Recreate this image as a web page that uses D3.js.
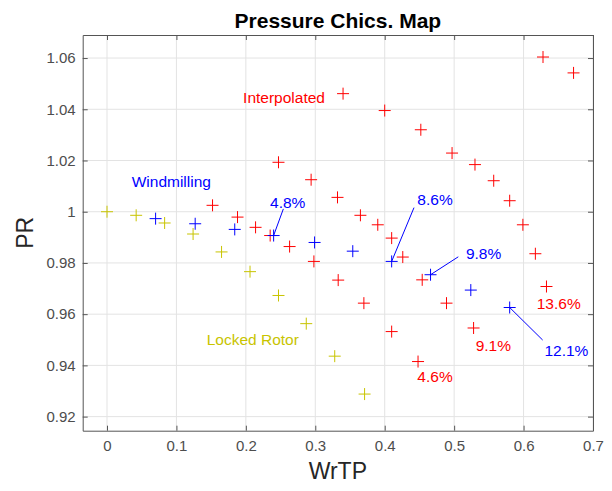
<!DOCTYPE html>
<html>
<head>
<meta charset="utf-8">
<script src="https://cdn.jsdelivr.net/npm/d3@7"></script>
<style>
  body { margin: 0; background: #fff; }
  svg { font-family: "Liberation Sans", Arial, sans-serif; }
</style>
</head>
<body>
<div id="chart"></div>
<script>
// locked rotor line
const lockedX = [0, 0.042, 0.083, 0.124, 0.165, 0.206, 0.247, 0.287, 0.328, 0.371];
const lockedY = [1.000, 0.9986, 0.9956, 0.9913, 0.9843, 0.9766, 0.9673, 0.9563, 0.9436, 0.9288];

// windmilling line
const windX = [0.070, 0.127, 0.184, 0.240, 0.299, 0.354, 0.410, 0.466, 0.524, 0.580];
const windY = [0.9973, 0.9953, 0.9931, 0.9907, 0.9880, 0.9846, 0.9806, 0.9754, 0.9694, 0.9626];

// interpolated speed lines
const interpX = [0.152, 0.188, 0.214, 0.235, 0.263, 0.298, 0.333, 0.370, 0.410, 0.448,
                 0.247, 0.294, 0.332, 0.365, 0.390, 0.410, 0.426, 0.454, 0.489, 0.528,
                 0.340, 0.400, 0.452, 0.497, 0.530, 0.557, 0.580, 0.599, 0.617, 0.633,
                 0.628, 0.672];
const interpY = [1.0025, 0.9979, 0.9939, 0.9907, 0.9864, 0.9806, 0.9733, 0.9643, 0.9532, 0.9415,
                 1.0193, 1.0125, 1.0056, 0.9986, 0.9949, 0.9897, 0.9823, 0.9734, 0.9643, 0.9546,
                 1.0461, 1.0395, 1.0320, 1.0229, 1.0184, 1.0121, 1.0043, 0.9949, 0.9836, 0.9708,
                 1.0604, 1.0542];

const xTicks = [0, 0.1, 0.2, 0.3, 0.4, 0.5, 0.6, 0.7];
const yTicks = [0.92, 0.94, 0.96, 0.98, 1.00, 1.02, 1.04, 1.06];

// text labels: [x, y, text, color]
const labels = [
    [0.196, 1.0445, "Interpolated", "red"],
    [0.0356, 1.0117, "Windmilling", "blue"],
    [0.1436, 0.9502, "Locked Rotor", "yellow"],
    [0.2348, 1.0035, "4.8%", "blue"],
    [0.447, 1.0046, "8.6%", "blue"],
    [0.517, 0.9838, "9.8%", "blue"],
    [0.630, 0.9457, "12.1%", "blue"],
    [0.619, 0.9642, "13.6%", "red"],
    [0.531, 0.9477, "9.1%", "red"],
    [0.447, 0.9356, "4.6%", "red"]
];
// arrows from label to point: [x1, y1, x2, y2]
const arrows = [
    [0.254, 1.0011, 0.240, 0.9907],
    [0.4422, 1.0016, 0.410, 0.9806],
    [0.506, 0.9824, 0.466, 0.9754],
    [0.6275, 0.9499, 0.580, 0.9626]
];

const colors = { red: "#ff0000", blue: "#0000ff", yellow: "#c8c400" };

const width = 612, height = 491;
const mLeft = 82.7, mRight = 593, mTop = 35, mBottom = 430.7;

const x = d3.scaleLinear().domain([-0.035, 0.7]).range([mLeft, mRight]);
const y = d3.scaleLinear().domain([0.9145, 1.069]).range([mBottom, mTop]);

const svg = d3.select("#chart").append("svg")
    .attr("width", width)
    .attr("height", height);

// grid
svg.append("g").selectAll("line").data(xTicks).join("line")
    .attr("x1", d => x(d)).attr("x2", d => x(d))
    .attr("y1", mTop).attr("y2", mBottom)
    .attr("stroke", "#e3e3e3");
svg.append("g").selectAll("line").data(yTicks).join("line")
    .attr("x1", mLeft).attr("x2", mRight)
    .attr("y1", d => y(d)).attr("y2", d => y(d))
    .attr("stroke", "#e3e3e3");

// axes, ticks inward like matlab
const fmt = d => d3.format("~g")(d);
const axisStyle = g => {
    g.select(".domain").attr("stroke", "#555");
    g.selectAll(".tick line").attr("stroke", "#555");
    g.selectAll(".tick text").attr("fill", "#4d4d4d").style("font-size", "15px")
        .style("font-family", "'Liberation Sans', Arial, sans-serif");
};
svg.append("g").attr("transform", `translate(0,${mBottom})`)
    .call(d3.axisBottom(x).tickValues(xTicks).tickFormat(fmt).tickSizeInner(-5).tickSizeOuter(0).tickPadding(10))
    .call(axisStyle);
svg.append("g").attr("transform", `translate(0,${mTop})`)
    .call(d3.axisTop(x).tickValues(xTicks).tickFormat("").tickSizeInner(-5).tickSizeOuter(0))
    .call(axisStyle);
svg.append("g").attr("transform", `translate(${mLeft},0)`)
    .call(d3.axisLeft(y).tickValues(yTicks).tickFormat(fmt).tickSizeInner(-5).tickSizeOuter(0).tickPadding(7))
    .call(axisStyle);
svg.append("g").attr("transform", `translate(${mRight},0)`)
    .call(d3.axisRight(y).tickValues(yTicks).tickFormat("").tickSizeInner(-5).tickSizeOuter(0))
    .call(axisStyle);

// plus markers
function drawPlus(xs, ys, col) {
    const pts = xs.map((v, i) => [v, ys[i]]);
    const g = svg.append("g")
        .attr("stroke", col).attr("stroke-width", 1).attr("fill", "none");
    g.selectAll("path").data(pts).join("path")
        .attr("d", d => `M${x(d[0]) - 6},${y(d[1])}h12M${x(d[0])},${y(d[1]) - 6}v12`);
}
drawPlus(lockedX, lockedY, colors.yellow);
drawPlus(interpX, interpY, colors.red);
drawPlus(windX, windY, colors.blue);

// arrows
svg.append("g").selectAll("line").data(arrows).join("line")
    .attr("x1", d => x(d[0])).attr("y1", d => y(d[1]))
    .attr("x2", d => x(d[2])).attr("y2", d => y(d[3]))
    .attr("stroke", colors.blue).attr("stroke-width", 1);

// labels
svg.append("g").selectAll("text").data(labels).join("text")
    .attr("x", d => x(d[0])).attr("y", d => y(d[1]))
    .attr("dy", "0.35em")
    .attr("fill", d => colors[d[3]])
    .style("font-size", "15.5px")
    .text(d => d[2]);

// title and axis labels
svg.append("text")
    .attr("x", (mLeft + mRight) / 2).attr("y", 28)
    .attr("text-anchor", "middle")
    .style("font-size", "21px").style("font-weight", "bold")
    .text("Pressure Chics. Map");

svg.append("text")
    .attr("x", (mLeft + mRight) / 2).attr("y", 479)
    .attr("text-anchor", "middle")
    .attr("fill", "#262626")
    .style("font-size", "23px")
    .text("WrTP");

svg.append("text")
    .attr("transform", `translate(33,${(mTop + mBottom) / 2}) rotate(-90)`)
    .attr("text-anchor", "middle")
    .attr("fill", "#262626")
    .style("font-size", "23px")
    .text("PR");
</script>
</body>
</html>
